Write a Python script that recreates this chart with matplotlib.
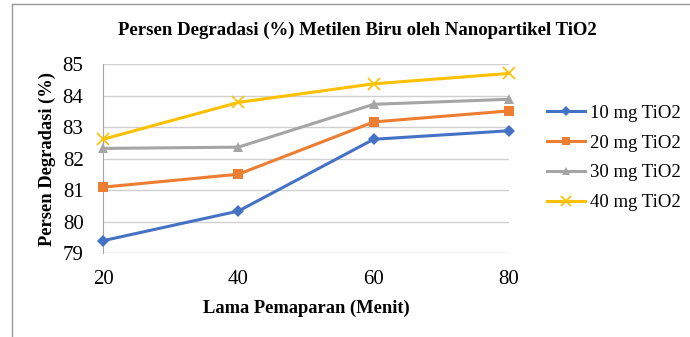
import matplotlib
matplotlib.use("Agg")
import matplotlib.pyplot as plt
from matplotlib.lines import Line2D

waktu = [20, 40, 60, 80]
s10 = [79.40, 80.34, 82.62, 82.89]
s20 = [81.10, 81.51, 83.17, 83.52]
s30 = [82.33, 82.37, 83.73, 83.89]
s40 = [82.62, 83.79, 84.38, 84.71]
labels = ["10 mg TiO2", "20 mg TiO2", "30 mg TiO2", "40 mg TiO2"]
yticks = [79, 80, 81, 82, 83, 84, 85]

colors = ["#4472C4", "#ED7D31", "#A5A5A5", "#FFC000"]
markers = ["D", "s", "^", "x"]
msizes = [6, 7, 7, 9]

serif = ["Liberation Serif", "DejaVu Serif"]

fig = plt.figure(figsize=(6.9, 3.37), dpi=100)
ax = fig.add_axes([103/690, 1 - 253.3/337, 406/690, 189/337])

for ys, c, m, ms, lab in zip([s10, s20, s30, s40], colors, markers, msizes, labels):
    ax.plot(waktu, ys, color=c, lw=2.2, marker=m, ms=ms, mew=1.2 if m == "x" else 0,
            mec=c, mfc=c, label=lab, clip_on=False, zorder=3)

ax.set_xlim(20, 80)
ax.set_ylim(79, 85)
ax.set_xticks(waktu)
ax.set_yticks(yticks)
ax.grid(axis="y", color="#D0D0D0", lw=1.0)
ax.set_axisbelow(True)
for s in ["top", "right", "bottom"]:
    ax.spines[s].set_visible(False)
ax.spines["left"].set_color("#A6A6A6")
ax.tick_params(length=0, labelsize=15)
for t in ax.get_xticklabels() + ax.get_yticklabels():
    t.set_family(serif)
ax.tick_params(axis="x", pad=12)
ax.tick_params(axis="y", pad=14)

fig.text(306/690, 1 - 308/337, "Lama Pemaparan (Menit)", family=serif, fontweight="bold",
         fontsize=13.3, ha="center", va="center")
fig.text(47/690, 1 - 158.5/337, "Persen Degradasi (%)", family=serif, fontweight="bold",
         fontsize=13.3, ha="center", va="center", rotation=90)

fig.text(357.5/690, 1 - 30/337, "Persen Degradasi (%) Metilen Biru oleh Nanopartikel TiO2",
         family=serif, fontweight="bold", fontsize=13.5, ha="center", va="center")

leg = fig.legend(loc="center left", bbox_to_anchor=(530.5/690, 1 - 158/337), frameon=False,
                 prop={"family": serif, "size": 13.5}, handlelength=2.0, handletextpad=0.27,
                 labelspacing=0.67, markerscale=0.8)

# outer chart border (top and left)
fig.add_artist(Line2D([12/690, 1], [1 - 4/337, 1 - 4/337], transform=fig.transFigure,
                      color="#9A9A9A", lw=1))
fig.add_artist(Line2D([12/690, 12/690], [0, 1 - 4/337], transform=fig.transFigure,
                      color="#9A9A9A", lw=1))

fig.savefig("out.png", dpi=100)
